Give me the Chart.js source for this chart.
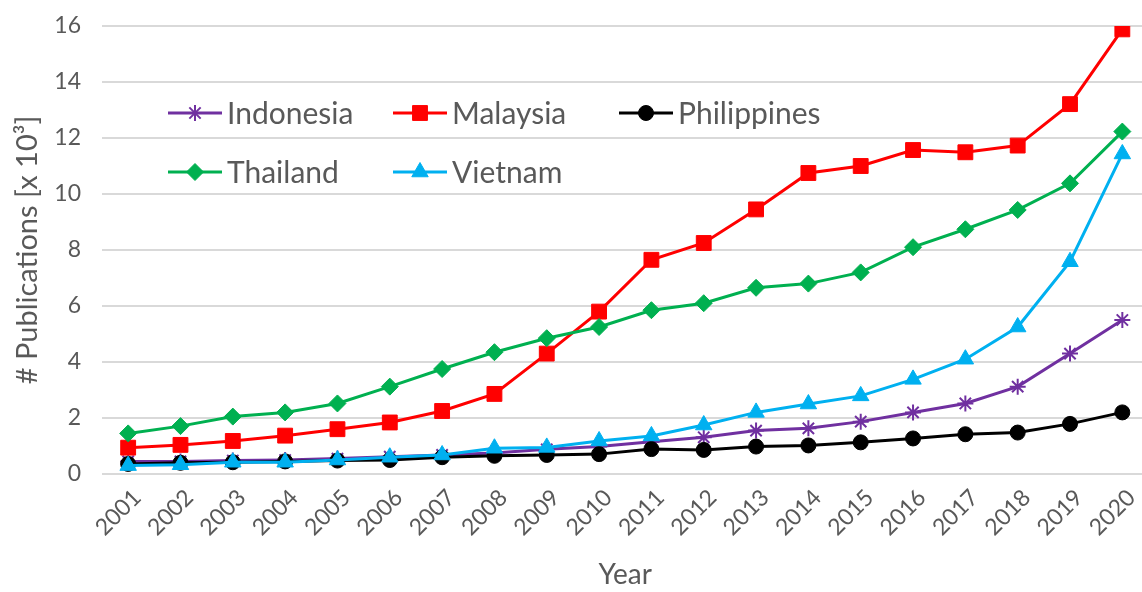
<!DOCTYPE html>
<html>
<head>
<meta charset="utf-8">
<script src="https://cdn.jsdelivr.net/npm/chart.js@4.4.1/dist/chart.umd.min.js"></script>
<style>
    html, body { margin: 0; padding: 0; background: #fff; overflow: hidden; }
    #wrap { width: 1160px; height: 592px; }
</style>
</head>
<body>
<div id="wrap"><canvas id="chart" width="1160" height="592"></canvas></div>
<script>
// ---------------- DATA ----------------
const years = ["2001", "2002", "2003", "2004", "2005", "2006", "2007", "2008", "2009", "2010",
               "2011", "2012", "2013", "2014", "2015", "2016", "2017", "2018", "2019", "2020"];

const indonesia   = [0.45, 0.45, 0.48, 0.50, 0.55, 0.62, 0.68, 0.75, 0.88, 0.98, 1.15, 1.31, 1.55, 1.63, 1.87, 2.20, 2.52, 3.12, 4.30, 5.50];
const malaysia    = [0.94, 1.04, 1.18, 1.37, 1.60, 1.84, 2.25, 2.86, 4.30, 5.80, 7.65, 8.25, 9.45, 10.75, 11.00, 11.57, 11.49, 11.73, 13.21, 15.88];
const philippines = [0.36, 0.40, 0.42, 0.45, 0.48, 0.50, 0.60, 0.65, 0.68, 0.71, 0.89, 0.86, 0.98, 1.02, 1.13, 1.27, 1.42, 1.48, 1.79, 2.20];
const thailand    = [1.45, 1.71, 2.05, 2.20, 2.52, 3.12, 3.75, 4.35, 4.85, 5.25, 5.85, 6.10, 6.65, 6.80, 7.20, 8.10, 8.74, 9.43, 10.38, 12.23];
const vietnam     = [0.30, 0.33, 0.42, 0.42, 0.50, 0.60, 0.68, 0.92, 0.95, 1.18, 1.36, 1.75, 2.20, 2.50, 2.79, 3.38, 4.10, 5.25, 7.58, 11.43];

const yTicks = [0, 2, 4, 6, 8, 10, 12, 14, 16];

const FONT = "Lato";
const GREY = "#595959";

// ---------------- LEGEND (inside plot) ----------------
const legendLayout = [
    { idx: 0, x: 227, y: 113 },
    { idx: 1, x: 452, y: 113 },
    { idx: 2, x: 678, y: 113 },
    { idx: 3, x: 227, y: 172 },
    { idx: 4, x: 452, y: 172 }
];

const insideLegend = {
    id: "insideLegend",
    afterDatasetsDraw(chart) {
        const ctx = chart.ctx;
        ctx.save();
        legendLayout.forEach(item => {
            const ds = chart.data.datasets[item.idx];
            const mx = item.x - 32;
            ctx.strokeStyle = ds.borderColor;
            ctx.lineWidth = ds.borderWidth;
            ctx.beginPath();
            ctx.moveTo(mx - 27, item.y);
            ctx.lineTo(mx + 27, item.y);
            ctx.stroke();

            ctx.fillStyle = ds.pointBackgroundColor;
            ctx.strokeStyle = ds.pointBorderColor;
            ctx.lineWidth = ds.pointBorderWidth;
            Chart.helpers.drawPoint(ctx, {
                pointStyle: ds.pointStyle,
                rotation: 0,
                radius: ds.pointRadius,
                borderWidth: ds.pointBorderWidth
            }, mx, item.y);

            ctx.fillStyle = GREY;
            ctx.font = "30px " + FONT;
            ctx.textAlign = "left";
            ctx.textBaseline = "middle";
            ctx.fillText(ds.label, item.x, item.y + 1);
        });
        ctx.restore();
    }
};

// ---------------- CHART ----------------
function series(label, data, color, style, radius, order) {
    return {
        label: label,
        data: data,
        borderColor: color,
        backgroundColor: color,
        borderWidth: 3,
        pointStyle: style,
        pointRadius: radius,
        pointBackgroundColor: color,
        pointBorderColor: color,
        pointBorderWidth: style === "star" ? 2 : 1,
        tension: 0,
        order: order
    };
}

new Chart(document.getElementById("chart"), {
    type: "line",
    data: {
        labels: years,
        datasets: [
            series("Indonesia", indonesia, "#7030A0", "star", 8, 5),
            series("Malaysia", malaysia, "#FF0000", "rect", 10.5, 4),
            series("Philippines", philippines, "#000000", "circle", 7.5, 3),
            series("Thailand", thailand, "#00B050", "rectRot", 8.5, 2),
            series("Vietnam", vietnam, "#00B0F0", "triangle", 9.5, 1)
        ]
    },
    options: {
        responsive: false,
        animation: false,
        layout: { padding: { top: 26, right: 8, left: 0, bottom: 0 } },
        plugins: {
            legend: { display: false },
            tooltip: { enabled: false }
        },
        scales: {
            x: {
                offset: true,
                grid: { display: false, drawTicks: false },
                border: { display: false },
                ticks: {
                    color: GREY,
                    font: { family: FONT, size: 23 },
                    minRotation: 45,
                    maxRotation: 45,
                    autoSkip: false,
                    padding: 10,
                    labelOffset: 9
                },
                title: {
                    display: true,
                    text: "Year",
                    color: GREY,
                    font: { family: FONT, size: 28 },
                    padding: { top: 0, bottom: 0 }
                },
                afterFit(scale) { scale.height = 118; }
            },
            y: {
                min: 0,
                max: 16,
                afterBuildTicks(scale) { scale.ticks = yTicks.map(v => ({ value: v })); },
                grid: {
                    color: "#D9D9D9",
                    lineWidth: 2,
                    drawTicks: true,
                    tickLength: 21,
                    tickColor: "rgba(0,0,0,0)"
                },
                border: { display: false },
                ticks: {
                    color: GREY,
                    font: { family: FONT, size: 23 },
                    padding: 0
                },
                title: {
                    display: true,
                    text: "# Publications [x 10³]",
                    color: GREY,
                    font: { family: FONT, size: 29 },
                    padding: { top: 10, bottom: 0 }
                },
                afterFit(scale) { scale.width = 102; }
            }
        }
    },
    plugins: [insideLegend]
});
</script>
</body>
</html>
